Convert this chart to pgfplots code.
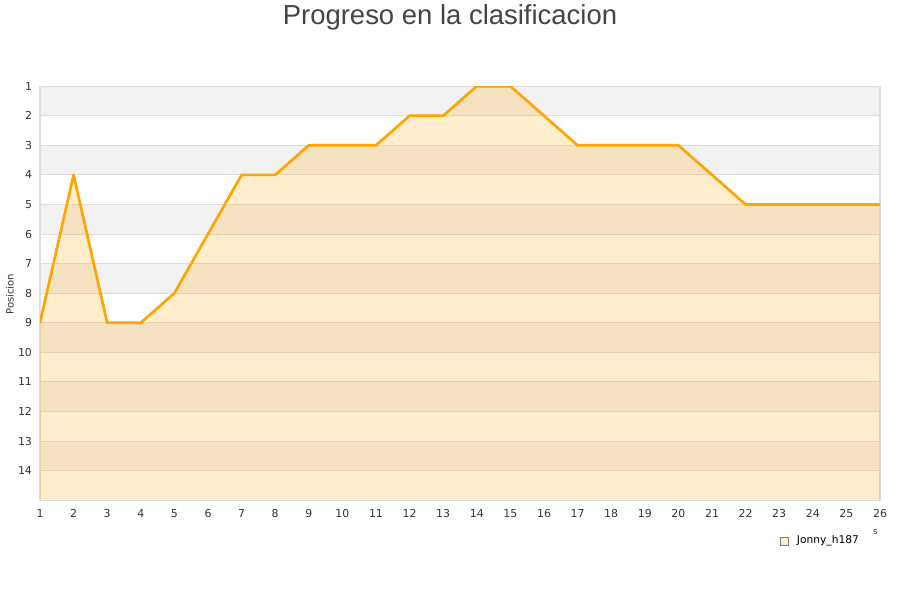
\documentclass[border=0pt]{standalone}
\usepackage{pgfplots}
\pgfplotsset{compat=1.18}
\usepackage{fontspec}
\setmainfont{DejaVu Sans}
\newfontfamily\titlefont{Liberation Sans}

\definecolor{lineorange}{HTML}{FFA500}
\definecolor{bandgray}{HTML}{F2F2F2}
\definecolor{gridgray}{HTML}{DDDDDD}
\definecolor{textgray}{HTML}{333333}
\definecolor{titlegray}{HTML}{444444}

\begin{document}
\begin{tikzpicture}
% 900x600 px canvas, 1px = 0.75pt
\path (0,0) rectangle (675pt,450pt);

\begin{axis}[
    set layers,
    at={(30pt,75.6pt)}, anchor=south west,
    scale only axis,
    width=630pt, height=310.5pt,
    xmin=1, xmax=26,
    ymin=1, ymax=15,
    y dir=reverse,
    xtick={1,...,26},
    ytick={1,...,14},
    tick style={draw=none},
    ymajorgrids,
    major grid style={gridgray, line width=0.6pt},
    axis line style={gridgray, line width=0.8pt},
    /pgf/number format/assume math mode=true,
    tick label style={font=\fontsize{8.2}{9}\selectfont, text=textgray},
    xticklabel style={yshift=-3.5pt},
    yticklabel style={xshift=-2.5pt},
    band/.style={draw=none, fill=bandgray, on layer=axis background, forget plot},
]
    % alternating background bands
    \addplot[band] coordinates {(1,1) (26,1) (26,2) (1,2)};
    \addplot[band] coordinates {(1,3) (26,3) (26,4) (1,4)};
    \addplot[band] coordinates {(1,5) (26,5) (26,6) (1,6)};
    \addplot[band] coordinates {(1,7) (26,7) (26,8) (1,8)};
    \addplot[band] coordinates {(1,9) (26,9) (26,10) (1,10)};
    \addplot[band] coordinates {(1,11) (26,11) (26,12) (1,12)};
    \addplot[band] coordinates {(1,13) (26,13) (26,14) (1,14)};

    % area under the ranking line
    \addplot[draw=none, fill=lineorange, fill opacity=0.2] coordinates {
        (1,9) (2,4) (3,9) (4,9) (5,8) (6,6) (7,4) (8,4) (9,3) (10,3)
        (11,3) (12,2) (13,2) (14,1) (15,1) (16,2) (17,3) (18,3) (19,3) (20,3)
        (21,4) (22,5) (23,5) (24,5) (25,5) (26,5) (26,15) (1,15)
    };
    % ranking line
    \addplot[lineorange, line width=2pt, mark=none, line join=round] coordinates {
        (1,9) (2,4) (3,9) (4,9) (5,8) (6,6) (7,4) (8,4) (9,3) (10,3)
        (11,3) (12,2) (13,2) (14,1) (15,1) (16,2) (17,3) (18,3) (19,3) (20,3)
        (21,4) (22,5) (23,5) (24,5) (25,5) (26,5)
    };
\end{axis}

% title
\node[text=titlegray, font=\titlefont\fontsize{20.6}{24}\selectfont] at (337.5pt,437.8pt) {Progreso en la clasificacion};

% y label
\node[rotate=90, text=textgray, font=\fontsize{7.5}{9}\selectfont] at (7.5pt,230pt) {Posicion};

% stray axis label fragment
\node[text=textgray, font=\fontsize{6.5}{8}\selectfont] at (656.5pt,51.5pt) {s};

% legend
\draw[gray, fill=lineorange!20, line width=0.5pt] (585pt,42pt) rectangle (591pt,48pt);
\node[anchor=west, inner sep=0pt, font=\fontsize{8}{10}\selectfont] at (597.5pt,45pt) {Jonny\_h187};
\end{tikzpicture}
\end{document}
